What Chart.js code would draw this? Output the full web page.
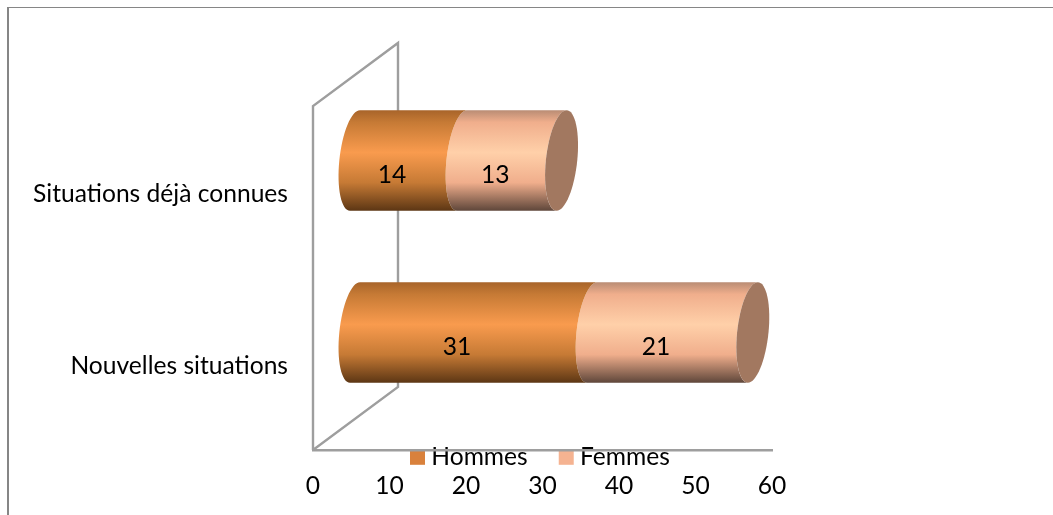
<!DOCTYPE html>
<html lang="fr">
<head>
<meta charset="utf-8">
<title>Situations</title>
<script src="https://cdn.jsdelivr.net/npm/chart.js@4/dist/chart.umd.min.js"></script>
<style>
  html, body { margin: 0; padding: 0; background: #fff; overflow: hidden; }
  #frame { position: absolute; left: 7px; top: 7px; right: 0; height: 508px; border-left: 2px solid #868686; border-top: 1px solid #868686; }
  canvas { position: absolute; left: 0; top: 0; }
</style>
</head>
<body>
<div id="frame"></div>
<canvas id="c" width="1053" height="515"></canvas>
<script>
const categories = ['Situations déjà connues', 'Nouvelles situations'];
const hommes = [14, 31];
const femmes = [13, 21];
const seriesNames = ['Hommes', 'Femmes'];
const xTicks = [0, 10, 20, 30, 40, 50, 60];

const FONT = { family: 'Lato, Carlito, sans-serif', size: 24.6 };
const AXIS = '#9E9E9E';

// Colour stops of the lit cylinder, per series
const shades = [
  { swatch: '#D9813C', edge: '#A8642A', light: '#F99B4E', mid: '#C67A35', dark: '#5C3614' },
  { swatch: '#F5B391', edge: '#B98C74', light: '#FFD0A9', mid: '#F0AE8C', dark: '#5E463A' }
];
const CAP = '#A27860';

// 3D projection: the wall sits one full depth behind the front, bars at half depth
const DEPTH_X = 85, DEPTH_Y = -63;
const BAR_X = 42, BAR_Y = -31.5;
const TILT = 5, CAP_RX = 15.7;

// Outline of a cylinder slice between two centre positions, curved like the end ellipses
function slicePath(ctx, xa, xb, cy, ry) {
  const n = 32;
  ctx.beginPath();
  for (let i = 0; i <= n; i++) {          // left arc of the far end, top to bottom
    const t = -Math.PI / 2 - Math.PI * i / n;
    const px = xb + CAP_RX * Math.cos(t) - TILT * Math.sin(t);
    const py = cy + ry * Math.sin(t);
    i === 0 ? ctx.moveTo(px, py) : ctx.lineTo(px, py);
  }
  for (let i = 0; i <= n; i++) {          // left arc of the near end, bottom to top
    const t = Math.PI / 2 + Math.PI * i / n;
    const px = xa + CAP_RX * Math.cos(t) - TILT * Math.sin(t);
    const py = cy + ry * Math.sin(t);
    ctx.lineTo(px, py);
  }
  ctx.closePath();
}

const cylinderBars = {
  id: 'cylinderBars',
  beforeLayout(chart) {
    // The legend overlaps the axis, so it must not claim any layout height
    const lg = chart.legend;
    if (lg && !lg._flat) {
      const fit = lg.fit;
      lg.fit = function () { fit.call(this); this.height = 0; };
      lg._flat = true;
    }
  },
  afterLayout(chart) {
    const lg = chart.legend;
    const pad = lg.options.labels.padding;
    lg.left = 416 - pad; lg.right = 1053;
    lg.top = 445 - pad; lg.bottom = 490;
  },
  beforeDatasetsDraw(chart) {
    // Back wall and floor edge, drawn behind the bars
    const { ctx, chartArea: a } = chart;
    ctx.save();
    ctx.strokeStyle = AXIS;
    ctx.lineWidth = 2.4;
    ctx.lineJoin = 'miter';
    ctx.beginPath();
    ctx.moveTo(a.left, a.bottom);
    ctx.lineTo(a.left, a.top);
    ctx.lineTo(a.left + DEPTH_X, a.top + DEPTH_Y);
    ctx.lineTo(a.left + DEPTH_X, a.bottom + DEPTH_Y);
    ctx.lineTo(a.left, a.bottom);
    ctx.stroke();
    ctx.restore();
  },
  beforeDatasetDraw(chart, args) {
    const { ctx } = chart;
    const meta = args.meta;
    const s = shades[args.index];
    meta.data.forEach((bar) => {
      const p = bar.getProps(['x', 'y', 'base', 'height'], true);
      const xa = p.base + BAR_X;
      const xb = p.x + BAR_X;
      const cy = p.y + BAR_Y;
      const ry = p.height / 2;
      const g = ctx.createLinearGradient(0, cy - ry, 0, cy + ry);
      g.addColorStop(0, s.edge);
      g.addColorStop(0.12, s.mid);
      g.addColorStop(0.42, s.light);
      g.addColorStop(0.72, s.mid);
      g.addColorStop(1, s.dark);
      ctx.save();
      slicePath(ctx, xa, xb, cy, ry);
      ctx.fillStyle = g;
      ctx.fill();
      ctx.restore();
    });
    // End cap on the outer series
    if (args.index === chart.data.datasets.length - 1) {
      meta.data.forEach((bar) => {
        const p = bar.getProps(['x', 'y', 'height'], true);
        const xb = p.x + BAR_X;
        const cy = p.y + BAR_Y;
        const ry = p.height / 2;
        ctx.save();
        ctx.beginPath();
        for (let i = 0; i <= 64; i++) {
          const t = Math.PI * 2 * i / 64;
          const px = xb + CAP_RX * Math.cos(t) - TILT * Math.sin(t);
          const py = cy + ry * Math.sin(t);
          i === 0 ? ctx.moveTo(px, py) : ctx.lineTo(px, py);
        }
        ctx.closePath();
        ctx.fillStyle = CAP;
        ctx.fill();
        ctx.restore();
      });
    }
    return false;
  },
  afterDatasetsDraw(chart) {
    // Value labels, sitting slightly low and left of each slice's middle
    const { ctx } = chart;
    ctx.save();
    ctx.font = `${FONT.size}px ${FONT.family}`;
    ctx.fillStyle = '#000';
    ctx.textAlign = 'center';
    ctx.textBaseline = 'middle';
    chart.data.datasets.forEach((ds, di) => {
      chart.getDatasetMeta(di).data.forEach((bar, i) => {
        const p = bar.getProps(['x', 'y', 'base'], true);
        ctx.fillText(String(ds.data[i]), (p.x + p.base) / 2 + 25.5, p.y + BAR_Y + 15);
      });
    });
    ctx.restore();
  }
};

new Chart(document.getElementById('c'), {
  type: 'bar',
  data: {
    labels: categories,
    datasets: [
      { label: seriesNames[0], data: hommes, backgroundColor: shades[0].swatch, categoryPercentage: 1, barPercentage: 0.585 },
      { label: seriesNames[1], data: femmes, backgroundColor: shades[1].swatch, categoryPercentage: 1, barPercentage: 0.585 }
    ]
  },
  options: {
    indexAxis: 'y',
    responsive: false,
    animation: false,
    layout: { padding: { left: 0, top: 106, right: 281, bottom: 0 } },
    scales: {
      x: {
        stacked: true, min: 0, max: 60,
        afterFit(scale) { scale.height = 65; },
        afterBuildTicks(scale) { scale.ticks = xTicks.map((v) => ({ value: v })); },
        grid: { display: false, tickLength: 0 },
        border: { display: true, color: AXIS, width: 2.4 },
        ticks: { color: '#000', font: FONT, padding: 21, maxRotation: 0 }
      },
      y: {
        stacked: true,
        afterFit(scale) { scale.width = 313; },
        grid: { display: false, tickLength: 0 },
        border: { display: false },
        ticks: { color: '#000', font: FONT, padding: 25, labelOffset: 2 }
      }
    },
    plugins: {
      tooltip: { enabled: false },
      legend: {
        position: 'bottom',
        align: 'start',
        labels: {
          font: FONT, color: '#000', boxWidth: 3, boxHeight: 3, padding: 37,
          generateLabels(chart) {
            return chart.data.datasets.map((ds, i) => ({
              text: ds.label, fillStyle: ds.backgroundColor, strokeStyle: ds.backgroundColor,
              lineWidth: 12, datasetIndex: i
            }));
          }
        }
      }
    }
  },
  plugins: [cylinderBars]
});
</script>
</body>
</html>
